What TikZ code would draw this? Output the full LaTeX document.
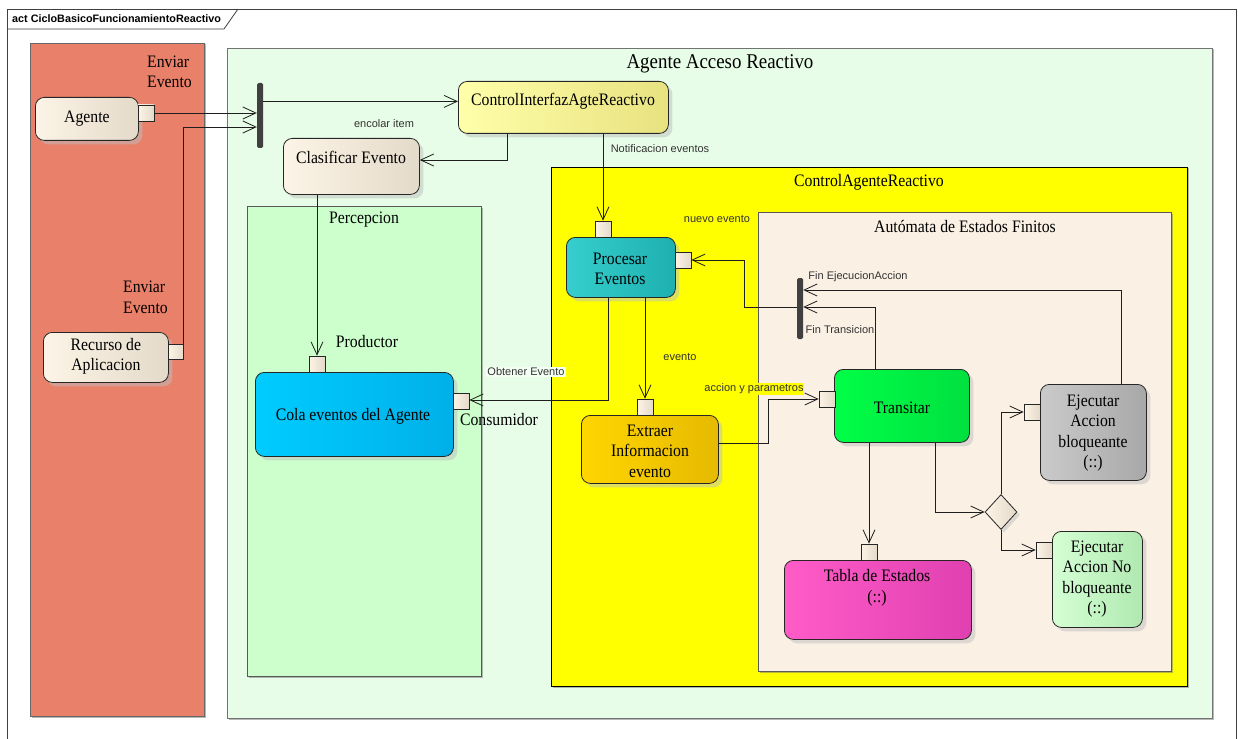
\documentclass[tikz,border=0pt]{standalone}
\usepackage{fontspec}
\setmainfont{Liberation Serif}[FakeStretch=0.9]
\newfontfamily\lblfont{Liberation Sans}
\usetikzlibrary{arrows.meta,shadows,shapes.geometric}

\definecolor{partred}{RGB}{233,128,106}
\definecolor{outergreen}{RGB}{231,253,231}
\definecolor{percgreen}{RGB}{204,255,204}
\definecolor{ctrlyellow}{RGB}{255,255,0}
\definecolor{linen}{RGB}{250,240,228}
\definecolor{creamL}{RGB}{252,244,230}
\definecolor{creamR}{RGB}{228,218,202}
\definecolor{ciL}{RGB}{255,255,170}
\definecolor{ciR}{RGB}{232,226,128}
\definecolor{colaL}{RGB}{0,204,255}
\definecolor{colaR}{RGB}{0,176,232}
\definecolor{peL}{RGB}{54,206,206}
\definecolor{peR}{RGB}{30,176,176}
\definecolor{exL}{RGB}{255,214,0}
\definecolor{exR}{RGB}{230,186,0}
\definecolor{trL}{RGB}{0,255,70}
\definecolor{trR}{RGB}{0,224,64}
\definecolor{ebL}{RGB}{202,202,202}
\definecolor{ebR}{RGB}{168,168,168}
\definecolor{tbL}{RGB}{255,92,200}
\definecolor{tbR}{RGB}{224,64,176}
\definecolor{enL}{RGB}{212,255,212}
\definecolor{enR}{RGB}{176,232,176}
\definecolor{lblbg}{RGB}{244,255,244}
\definecolor{flowgray}{RGB}{30,30,30}

\tikzset{
  serif/.style={font=\fontsize{17.5}{20.5}\selectfont},
  lbl/.style={font=\lblfont\fontsize{11}{13}\selectfont, text=black!80, inner sep=1pt},
  container/.style={draw=black!70, line width=0.8pt,
    drop shadow={shadow xshift=1.5pt, shadow yshift=-1.5pt, fill=black!55}},
  act/.style={draw=black!85, line width=0.8pt, rounded corners=9pt, inner sep=0pt,
    anchor=north west,
    drop shadow={shadow xshift=4pt, shadow yshift=-4pt, fill=black!25}},
  pinbox/.style={draw=black!85, line width=0.7pt, left color=creamL, right color=creamR,
    minimum width=16pt, minimum height=16pt, inner sep=0pt},
  forkbar/.style={fill=black!75, rounded corners=1.5pt, minimum width=6pt, inner sep=0pt},
  flow/.style={color=flowgray, draw=flowgray, line width=0.8pt,
    -{Straight Barb[length=13pt,width=12pt,line width=0.8pt]}},
  txt/.style={serif, align=center, inner sep=0pt},
}

\begin{document}
\begin{tikzpicture}[x=1pt,y=-1pt]
\useasboundingbox (0,0) rectangle (1238,738);
\fill[white] (0,0) rectangle (1238,738);

% frame and its name tab
\draw[black!75, line width=0.8pt] (7,9) rectangle (1236,760);
\draw[black!75, line width=0.8pt] (7,29) -- (224,29) -- (238,9);
\node[font=\lblfont\bfseries\fontsize{10.8}{12}\selectfont, anchor=west, inner sep=0pt]
  (frametitle) at (12,19) {act CicloBasicoFuncionamientoReactivo};

% partitions and regions
\path[container, fill=partred, draw=black!60] (30,43) rectangle (204,716);
\path[container, fill=outergreen, draw=black!55] (227,48) rectangle (1212,718);
\node[font=\fontsize{21}{24}\selectfont] (tagente) at (720,64) {Agente Acceso Reactivo};
\path[container, fill=percgreen, draw=black!65] (247,206) rectangle (481,676);
\node[serif] (tperc) at (364,220) {Percepcion};
\path[container, fill=ctrlyellow, draw=black] (551,167) rectangle (1187,686);
\node[serif] (tctrl) at (869,182) {ControlAgenteReactivo};
\path[container, fill=linen, draw=black!65] (758,212) rectangle (1171,671);
\node[serif] (tauto) at (965,227) {Autómata de Estados Finitos};

% actions
\node[act, left color=creamL, right color=creamR, minimum width=103pt, minimum height=43pt]
  (agente) at (35,97) {};
\node[txt] at (agente.center) {Agente};
\node[act, left color=creamL, right color=creamR, minimum width=125pt, minimum height=50pt]
  (recurso) at (43,332) {};
\node[txt] at ([yshift=1pt]recurso.center) {Recurso de\\Aplicacion};
\node[act, left color=ciL, right color=ciR, minimum width=210pt, minimum height=52pt]
  (ci) at (458,81) {};
\node[txt] at (563,101) {ControlInterfazAgteReactivo};
\node[act, left color=creamL, right color=creamR, minimum width=136pt, minimum height=56pt]
  (cl) at (283,138) {};
\node[txt] at (351,157) {Clasificar Evento};
\node[act, left color=colaL, right color=colaR, minimum width=198pt, minimum height=84pt]
  (cola) at (255,372) {};
\node[txt] at (353,416) {Cola eventos del Agente};
\node[act, left color=peL, right color=peR, minimum width=109pt, minimum height=60pt]
  (pe) at (566,237) {};
\node[txt] at (620,269) {Procesar\\Eventos};
\node[act, left color=exL, right color=exR, minimum width=137pt, minimum height=68pt]
  (ex) at (581,415) {};
\node[txt] at (650,451) {Extraer\\Informacion\\evento};
\node[act, left color=trL, right color=trR, minimum width=135pt, minimum height=73pt]
  (tr) at (834,369) {};
\node[txt] at (902,408) {Transitar};
\node[act, left color=tbL, right color=tbR, minimum width=187pt, minimum height=79pt]
  (tb) at (784,560) {};
\node[txt] at (877,588) {Tabla de Estados\\(::)};
\node[act, left color=ebL, right color=ebR, minimum width=106pt, minimum height=96pt]
  (ejb) at (1040,384) {};
\node[txt] at (1093,433) {Ejecutar\\Accion\\bloqueante\\(::)};
\node[act, left color=enL, right color=enR, minimum width=90pt, minimum height=96pt]
  (enb) at (1052,531) {};
\node[txt] at (1097,579) {Ejecutar\\Accion No\\bloqueante\\(::)};

% decision
\node[diamond, draw=black!85, line width=0.8pt, left color=creamL, right color=creamR,
  minimum width=32pt, minimum height=35pt, inner sep=0pt,
  drop shadow={shadow xshift=3pt, shadow yshift=-3pt, fill=black!25}]
  (dec) at (1001,512) {};

% fork / join bars
\node[forkbar, minimum height=65pt] (bar1) at (260,115.5) {};
\node[forkbar, minimum height=61pt] (bar2) at (800,308.5) {};

% pins
\node[pinbox] (agpin) at (146,113) {};
\node[pinbox, minimum width=15pt, minimum height=15pt] (rcpin) at (176,352) {};
\node[pinbox] (prodpin) at (317,364) {};
\node[pinbox] (conspin) at (461,401) {};
\node[pinbox] (pp1) at (603,229) {};
\node[pinbox] (pp2) at (683,260) {};
\node[pinbox] (expin) at (645,407) {};
\node[pinbox] (trpin) at (827,399) {};
\node[pinbox] (tbpin) at (869,552) {};
\node[pinbox] (ebpin) at (1032,412) {};
\node[pinbox] (enpin) at (1044,550) {};

% bend points
\coordinate (rcup) at (183,127);
\coordinate (ciw) at ([yshift=6pt]ci.west);
\coordinate (cidown) at (507,160);
\coordinate (obt) at (608,400);
\coordinate (ap1) at (768,443);
\coordinate (ft) at (875,307);
\coordinate (fe) at (1121,290);
\coordinate (ne) at (744,307);
\coordinate (td) at (935,512);

% flows
\begin{scope}[color=flowgray]
\draw[flow] (agpin.east) -- (agpin.east -| bar1.west);
\draw[flow] (rcpin.north -| rcup) -- (rcup) -- (rcup -| bar1.west);
\draw[flow] (bar1.east |- ciw) -- (ciw);
\draw[flow] (ci.south -| cidown) -- (cidown) -- (cidown -| cl.east);
\draw[flow] (cl.south -| prodpin.north) -- (prodpin.north);
\draw[flow] (ci.south -| pp1.north) -- (pp1.north);
\draw[flow] (pe.south -| obt) -- (obt) -- (obt -| conspin.east);
\draw[flow] (pe.south -| expin.north) -- (expin.north);
\draw[flow] (ex.east |- ap1) -- (ap1) |- (trpin.west);
\draw[flow] (tr.north -| ft) -- (ft) -- (ft -| bar2.east);
\draw[flow] (ejb.north -| fe) -- (fe) -- (fe -| bar2.east);
\draw[flow] (ne -| bar2.west) -- (ne) |- (pp2.east);
\draw[flow] (tr.south -| tbpin.north) -- (tbpin.north);
\draw[flow] (tr.south -| td) |- (dec.west);
\draw[flow] (dec.north) |- (ebpin.west);
\draw[flow] (dec.south) |- (enpin.west);
\end{scope}

% texts beside the flows
\node[serif, anchor=base west, align=left, inner sep=0pt] (env1) at (147,88) {Enviar\\Evento};
\node[serif, anchor=base west, align=left, inner sep=0pt] (env2) at (123,313) {Enviar\\Evento};
\node[lbl] (lencolar) at (384,124) {encolar item};
\node[lbl] (lnotif) at (660,149) {Notificacion eventos};
\node[lbl] (lnuevo) at (717,219) {nuevo evento};
\node[lbl] (lfinej) at (858,277) {Fin EjecucionAccion};
\node[lbl] (lfintr) at (840,330) {Fin Transicion};
\node[lbl] (levento) at (680,357) {evento};
\node[lbl, fill=lblbg] (lobt) at (526,372) {Obtener Evento};
\node[lbl, fill=ctrlyellow, inner sep=0.5pt] (lacc) at (754,389) {accion y parametros};
\node[serif] (lprod) at (367,342) {Productor};
\node[serif] (lcons) at (499,420) {Consumidor};
\end{tikzpicture}
\end{document}
